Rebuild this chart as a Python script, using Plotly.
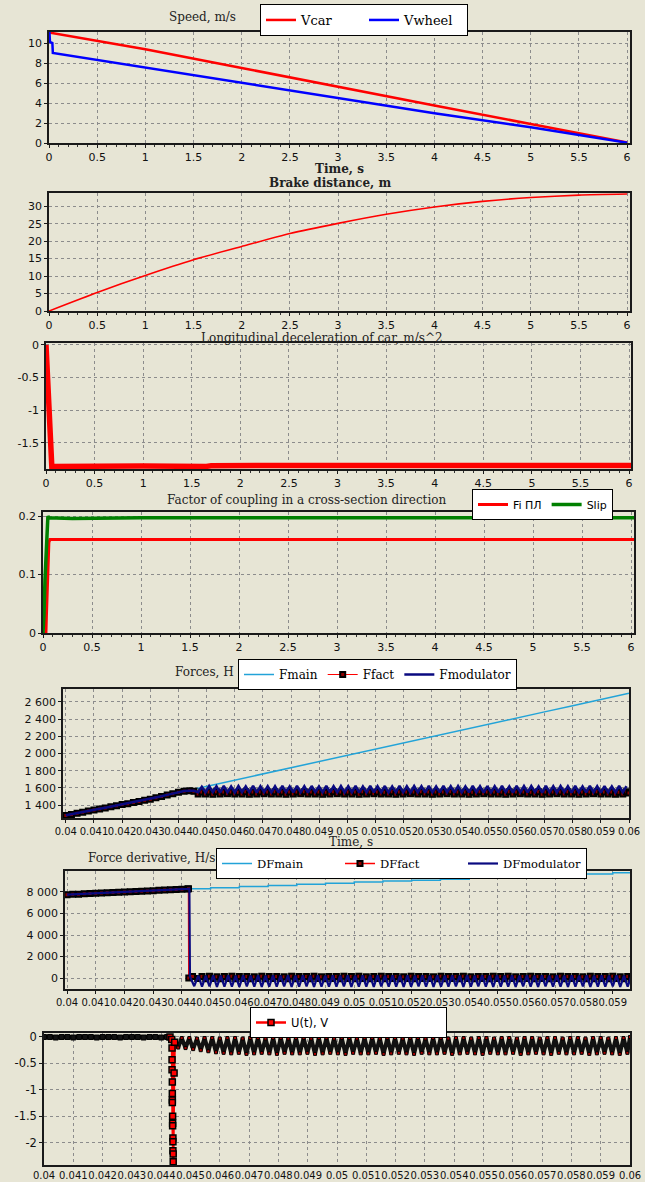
import plotly.graph_objects as go

W, H = 645, 1182
BG = '#E7E5D5'

# ---------------- data ----------------
# Panel 1: speed
vcar_t = [0, 1, 2, 3, 4, 5, 6]
vcar_v = [11.05, 9.37, 7.5, 5.6, 3.75, 1.9, 0.05]
vwheel_t = [0, 0.005, 0.01, 0.035, 0.04, 0.5, 1, 2, 3, 4, 5, 6]
vwheel_v = [11.0, 11.0, 10.1, 10.0, 9.0, 8.3, 7.47, 5.97, 4.47, 2.97, 1.57, 0.03]

# Panel 2: brake distance
brake_t = [0, 0.5, 1, 1.5, 2, 2.5, 3, 3.5, 4, 4.5, 5, 5.5, 6]
brake_s = [0, 5.3, 10.2, 14.7, 18.5, 22.2, 25.1, 27.7, 29.8, 31.4, 32.5, 33.2, 33.5]

# Panel 3: longitudinal deceleration
decel_t = [0, 0.01, 0.02, 0.03, 0.04, 0.05, 0.06, 0.08, 0.3, 0.6, 1.0, 1.65, 1.7, 2.5, 3.5, 4.5, 4.8, 5.2, 5.6, 6.02]
decel_a = [0, -0.33, -0.55, -0.95, -1.5, -1.78, -1.87, -1.86, -1.855, -1.86, -1.855, -1.86,
           -1.85, -1.845, -1.845, -1.845, -1.84, -1.845, -1.84, -1.845]

# Panel 4: factor of coupling
fi_t = [0, 0.03, 0.035, 0.045, 0.05, 0.06, 0.07, 6.03]
fi_v = [0, 0.0, 0.03, 0.08, 0.14, 0.155, 0.16, 0.16]
slip_t = [0, 0.01, 0.02, 0.03, 0.04, 0.05, 0.06, 0.3, 1.0, 2.0, 3.0, 4.0, 5.0, 6.03]
slip_v = [0, 0.03, 0.09, 0.13, 0.175, 0.2, 0.197, 0.196, 0.197, 0.197, 0.197, 0.197, 0.197, 0.197]

# time samples, units of 1e-5 s
rise_t = [4000, 4020, 4040, 4060, 4080, 4100, 4120, 4140, 4160, 4180, 4200,
          4220, 4240, 4260, 4280, 4300, 4320, 4340, 4360, 4380, 4400, 4420]
osc_t = [4470, 4483, 4496, 4509, 4522, 4535, 4548, 4561, 4574, 4587,
         4600, 4613, 4626, 4639, 4652, 4665, 4678, 4691, 4704, 4717,
         4730, 4743, 4756, 4769, 4782, 4795, 4808, 4821, 4834, 4847,
         4860, 4873, 4886, 4899, 4912, 4925, 4938, 4951, 4964, 4977,
         4990, 5003, 5016, 5029, 5042, 5055, 5068, 5081, 5094, 5107,
         5120, 5133, 5146, 5159, 5172, 5185, 5198, 5211, 5224, 5237,
         5250, 5263, 5276, 5289, 5302, 5315, 5328, 5341, 5354, 5367,
         5380, 5393, 5406, 5419, 5432, 5445, 5458, 5471, 5484, 5497,
         5510, 5523, 5536, 5549, 5562, 5575, 5588, 5601, 5614, 5627,
         5640, 5653, 5666, 5679, 5692, 5705, 5718, 5731, 5744, 5757,
         5770, 5783, 5796, 5809, 5822, 5835, 5848, 5861, 5874, 5887,
         5900, 5913, 5926, 5939, 5952, 5965, 5978, 5991]

# Panel 5: forces
fmain_t = [4000, 4100, 4200, 4300, 4430, 4500, 4600, 4700, 4800, 4900, 5000,
           5100, 5200, 5300, 5400, 5500, 5600, 5700, 5800, 5900, 6000]
fmain_v = [1292, 1352, 1412, 1474, 1568, 1618, 1690, 1762, 1835, 1906, 1978,
           2050, 2122, 2194, 2268, 2340, 2412, 2484, 2556, 2628, 2700]
ffact_rise = [1280, 1291, 1305, 1316, 1331, 1342, 1356, 1366, 1381, 1391, 1406,
              1417, 1431, 1442, 1457, 1467, 1485, 1499, 1517, 1531, 1549, 1561]
fmod_rise = [1283, 1294, 1306, 1318, 1332, 1344, 1357, 1369, 1382, 1394, 1407,
             1420, 1432, 1445, 1458, 1470, 1487, 1502, 1519, 1534, 1550, 1563]
ffact_lead_t = [4440, 4455]
ffact_lead = [1566, 1562]
fmod_lead_t = [4440, 4455]
fmod_lead = [1568, 1566]
ffact_osc = [1528, 1553, 1530, 1551, 1527, 1554, 1529, 1552, 1531, 1553, 1528, 1550, 1530, 1554, 1527, 1552, 1529, 1553, 1531, 1551,
             1528, 1554, 1530, 1552, 1527, 1553, 1529, 1551, 1531, 1554, 1528, 1552, 1530, 1553, 1527, 1550, 1529, 1554, 1531, 1552,
             1528, 1553, 1530, 1551, 1527, 1554, 1529, 1552, 1531, 1553, 1528, 1550, 1530, 1554, 1527, 1552, 1529, 1553, 1531, 1551,
             1528, 1554, 1530, 1552, 1527, 1553, 1529, 1551, 1531, 1554, 1528, 1552, 1530, 1553, 1527, 1550, 1529, 1554, 1531, 1552,
             1528, 1553, 1530, 1551, 1527, 1554, 1529, 1552, 1531, 1553, 1528, 1550, 1530, 1554, 1527, 1552, 1529, 1553, 1531, 1551,
             1528, 1554, 1530, 1552, 1527, 1553, 1529, 1551, 1531, 1554, 1528, 1552, 1530, 1553, 1527, 1550, 1529, 1554]
fmod_osc = [1549, 1612, 1547, 1621, 1550, 1619, 1546, 1624, 1549, 1618, 1547, 1622, 1551, 1617, 1548, 1625, 1546, 1620, 1550, 1621,
            1548, 1619, 1546, 1623, 1550, 1618, 1547, 1624, 1549, 1620, 1546, 1622, 1550, 1617, 1548, 1625, 1547, 1619, 1549, 1621,
            1547, 1620, 1550, 1623, 1546, 1618, 1549, 1624, 1547, 1620, 1550, 1622, 1546, 1617, 1548, 1625, 1549, 1619, 1547, 1622,
            1550, 1620, 1546, 1623, 1549, 1618, 1547, 1625, 1550, 1620, 1546, 1621, 1549, 1618, 1547, 1624, 1550, 1619, 1546, 1622,
            1549, 1620, 1547, 1623, 1550, 1618, 1546, 1624, 1549, 1621, 1547, 1622, 1550, 1617, 1546, 1625, 1549, 1620, 1547, 1621,
            1550, 1619, 1546, 1623, 1549, 1618, 1547, 1624, 1550, 1620, 1546, 1622, 1549, 1618, 1547, 1623, 1548, 1620]
ffact_end_t = [6000]
ffact_end = [1540]

# Panel 6: force derivative
dfmain_t = [4000, 4100, 4200, 4300, 4420, 4500, 4600, 4700, 4800, 4900, 5000,
            5100, 5200, 5300, 5400, 5500, 5600, 5700, 5800, 5900, 6000]
dfmain_v = [7740, 7900, 8060, 8200, 8300, 8390, 8500, 8610, 8710, 8810, 8920,
            9010, 9100, 9190, 9285, 9380, 9480, 9580, 9680, 9780, 9860]
dffact_rise = [7748, 7779, 7798, 7829, 7851, 7873, 7902, 7924, 7953, 7974, 8001,
               8027, 8048, 8079, 8098, 8124, 8152, 8173, 8203, 8225, 8252, 8278]
dfmod_rise = [7752, 7775, 7803, 7825, 7855, 7878, 7898, 7929, 7949, 7978, 8005,
              8023, 8053, 8074, 8103, 8128, 8148, 8178, 8199, 8229, 8248, 8282]
dffact_lead_t = [4423, 4424, 4437, 4455]
dffact_lead = [8300, 0, 150, -50]
dfmod_lead_t = [4426, 4428, 4443, 4457]
dfmod_lead = [8300, 150, -760, 220]
dffact_osc = [140, -60, 160, -40, 130, -70, 150, -50, 170, -60, 140, -40, 150, -70, 130, -50, 160, -60, 140, -50,
              150, -40, 130, -60, 160, -70, 140, -50, 150, -60, 170, -40, 130, -70, 150, -50, 140, -60, 160, -40,
              140, -60, 160, -40, 130, -70, 150, -50, 170, -60, 140, -40, 150, -70, 130, -50, 160, -60, 140, -50,
              150, -40, 130, -60, 160, -70, 140, -50, 150, -60, 170, -40, 130, -70, 150, -50, 140, -60, 160, -40,
              140, -60, 160, -40, 130, -70, 150, -50, 170, -60, 140, -40, 150, -70, 130, -50, 160, -60, 140, -50,
              150, -40, 130, -60, 160, -70, 140, -50, 150, -60, 170, -40, 130, -70, 150, -50, 140, -60]
dfmod_osc = [-800, 230, -780, 250, -820, 220, -790, 240, -810, 230, -830, 250, -770, 220, -800, 240, -820, 230, -790, 250,
             -810, 220, -780, 240, -830, 230, -800, 250, -770, 220, -820, 240, -790, 230, -810, 250, -800, 220, -780, 240,
             -820, 230, -790, 250, -800, 220, -830, 240, -770, 230, -810, 250, -790, 220, -820, 240, -800, 230, -780, 250,
             -810, 220, -830, 240, -790, 230, -800, 250, -770, 220, -820, 240, -810, 230, -780, 250, -800, 220, -830, 240,
             -790, 230, -810, 250, -820, 220, -770, 240, -800, 230, -830, 250, -780, 220, -810, 240, -790, 230, -820, 250,
             -800, 220, -780, 240, -830, 230, -790, 250, -810, 220, -770, 240, -820, 230, -800, 250, -790, 220]

# Panel 7: U(t)
u_rise = [0.0, 0.0, -0.01, 0.0, 0.0, -0.01, 0.0, 0.0, 0.0, -0.01, 0.0,
          0.0, 0.0, -0.01, 0.0, 0.0, 0.0, -0.01, 0.0, 0.0, -0.01, 0.0]
u_drop_t = [4430, 4436, 4437, 4437, 4437, 4438, 4438, 4438, 4438, 4439, 4439, 4439,
            4440, 4440, 4440, 4441, 4441, 4444, 4446]
u_drop = [0.0, -0.05, -0.21, -0.43, -0.62, -0.85, -1.07, -1.19, -1.24, -1.5, -1.63, -1.68,
          -1.91, -1.98, -2.15, -2.21, -2.36, -0.68, -0.1]
u_lead_t = [4446, 4458]
u_lead = [-0.1, -0.2]
u_osc = [-0.02, -0.21, -0.02, -0.23, -0.03, -0.25, -0.02, -0.27, -0.02, -0.29, -0.03, -0.30, -0.02, -0.31, -0.02, -0.30, -0.03, -0.32, -0.02, -0.31,
         -0.02, -0.30, -0.03, -0.31, -0.02, -0.32, -0.02, -0.30, -0.03, -0.31, -0.02, -0.31, -0.02, -0.30, -0.03, -0.32, -0.02, -0.31, -0.02, -0.30,
         -0.03, -0.31, -0.02, -0.32, -0.02, -0.30, -0.03, -0.31, -0.02, -0.31, -0.02, -0.30, -0.03, -0.32, -0.02, -0.31, -0.02, -0.30, -0.03, -0.31,
         -0.02, -0.32, -0.02, -0.30, -0.03, -0.31, -0.02, -0.31, -0.02, -0.30, -0.03, -0.32, -0.02, -0.31, -0.02, -0.30, -0.03, -0.31, -0.02, -0.32,
         -0.02, -0.30, -0.03, -0.31, -0.02, -0.31, -0.02, -0.30, -0.03, -0.32, -0.02, -0.31, -0.02, -0.30, -0.03, -0.31, -0.02, -0.32, -0.02, -0.30,
         -0.03, -0.31, -0.02, -0.31, -0.02, -0.30, -0.03, -0.32, -0.02, -0.31, -0.02, -0.30, -0.03, -0.31, -0.02, -0.32, -0.02, -0.30]
u_end_t = [6000]
u_end = [0.0]

# tick labels
ms_ticks = [40, 41, 42, 43, 44, 45, 46, 47, 48, 49, 50, 51, 52, 53, 54, 55, 56, 57, 58, 59, 60]
ms_text = ['0.04', '0.041', '0.042', '0.043', '0.044', '0.045', '0.046', '0.047', '0.048', '0.049', '0.05',
           '0.051', '0.052', '0.053', '0.054', '0.055', '0.056', '0.057', '0.058', '0.059', '0.06']
force_ticks = [1400, 1600, 1800, 2000, 2200, 2400, 2600]
force_text = ['1 400', '1 600', '1 800', '2 000', '2 200', '2 400', '2 600']
dforce_ticks = [0, 2000, 4000, 6000, 8000]
dforce_text = ['0', '2 000', '4 000', '6 000', '8 000']
decel_ticks = [0, -0.5, -1, -1.5]
decel_text = ['0', '-0.5', '-1', '-1.5']
u_ticks = [0, -0.5, -1, -1.5, -2]
u_text = ['0', '-0.5', '-1', '-1.5', '-2']


def sec(lst):
    return [v / 1e5 for v in lst]


# ---------------- figure ----------------
fig = go.Figure()


def add(tr, k):
    tr.update(xaxis='x' if k == 1 else 'x%d' % k, yaxis='y' if k == 1 else 'y%d' % k)
    fig.add_trace(tr)


add(go.Scatter(x=vcar_t, y=vcar_v, mode='lines', name='Vcar', legend='legend',
               line=dict(color='#ff0000', width=2.5)), 1)
add(go.Scatter(x=vwheel_t, y=vwheel_v, mode='lines', name='Vwheel', legend='legend',
               line=dict(color='#0000ff', width=2.5)), 1)

add(go.Scatter(x=brake_t, y=brake_s, mode='lines', name='Brake distance', showlegend=False,
               line=dict(color='#ff0000', width=1.6, shape='spline', smoothing=0.6)), 2)

add(go.Scatter(x=decel_t, y=decel_a, mode='lines', name='Deceleration', showlegend=False,
               line=dict(color='#ff0000', width=5.5)), 3)

add(go.Scatter(x=fi_t, y=fi_v, mode='lines', name='Fi ПЛ', legend='legend2',
               line=dict(color='#ff0000', width=3)), 4)
add(go.Scatter(x=slip_t, y=slip_v, mode='lines', name='Slip', legend='legend2',
               line=dict(color='#008000', width=3.5)), 4)

mk = dict(symbol='square', size=5, color='#8b0000', line=dict(color='black', width=2))

add(go.Scatter(x=sec(fmain_t), y=fmain_v, mode='lines', name='Fmain', legend='legend3',
               line=dict(color='#22a3d8', width=1.5)), 5)
add(go.Scatter(x=sec(rise_t + ffact_lead_t + osc_t + ffact_end_t),
               y=ffact_rise + ffact_lead + ffact_osc + ffact_end,
               mode='lines+markers', name='Ffact', legend='legend3',
               line=dict(color='#ff0000', width=1), marker=mk), 5)
add(go.Scatter(x=sec(rise_t + fmod_lead_t + osc_t), y=fmod_rise + fmod_lead + fmod_osc,
               mode='lines', name='Fmodulator', legend='legend3',
               line=dict(color='#0a0a80', width=2.5)), 5)

add(go.Scatter(x=sec(dfmain_t), y=dfmain_v, mode='lines', name='DFmain', legend='legend4',
               line=dict(color='#22a3d8', width=1.5, shape='hv')), 6)
add(go.Scatter(x=sec(rise_t + dffact_lead_t + osc_t), y=dffact_rise + dffact_lead + dffact_osc,
               mode='lines+markers', name='DFfact', legend='legend4',
               line=dict(color='#ff0000', width=1.5), marker=mk), 6)
add(go.Scatter(x=sec(rise_t + dfmod_lead_t + osc_t), y=dfmod_rise + dfmod_lead + dfmod_osc,
               mode='lines', name='DFmodulator', legend='legend4',
               line=dict(color='#0a0a80', width=2.2)), 6)

add(go.Scatter(x=sec(u_lead_t + osc_t + u_end_t), y=u_lead + u_osc + u_end,
               mode='lines+markers', name='U(t), V', legend='legend5', showlegend=False,
               line=dict(color='#111111', width=4),
               marker=dict(symbol='square', size=3, color='#b00000', line=dict(color='black', width=1))), 7)
add(go.Scatter(x=sec(rise_t), y=u_rise, mode='lines+markers', name='U(t), V', legend='legend5',
               showlegend=False, line=dict(color='#111111', width=4),
               marker=dict(symbol='square', size=5, color='#111111', line=dict(color='black', width=1))), 7)
add(go.Scatter(x=sec(u_drop_t), y=u_drop,
               mode='lines+markers', name='U(t), V', legend='legend5',
               line=dict(color='#ff0000', width=2.5),
               marker=dict(symbol='square', size=6, color='#ff0000', line=dict(color='black', width=1.5))), 7)

# ---------------- axes ----------------
panels = [(49, 630, 32, 143), (49, 630, 193, 311), (46, 631, 343, 469), (43, 634, 512, 633),
          (63, 629, 689, 818), (65, 630, 871, 989), (44, 630, 1033, 1165)]
xranges = [[0, 6.03], [0, 6.03], [0, 6.02], [0, 6.03], [0.0399, 0.06], [0.03993, 0.0596], [0.04, 0.06]]
yranges = [[0, 11.1], [0, 33.8], [-1.9, 0.03], [0, 0.207], [1250, 2750], [-1020, 9950], [-2.42, 0.075]]


def ax(**kw):
    d = dict(showline=True, mirror=True, linecolor='#1a1a1a', linewidth=1.5,
             showgrid=True, gridcolor='#8c8c8c', griddash='3px,3px', gridwidth=1,
             zeroline=False, ticks='outside', ticklen=3, tickcolor='#1a1a1a',
             tickfont=dict(family='DejaVu Sans', size=11, color='#111'), tickangle=0,
             automargin=False, fixedrange=True)
    d.update(kw)
    return d


lay = {}
for i, (x0, x1, yt, yb) in enumerate(panels):
    k = i + 1
    xs = 'xaxis' if k == 1 else 'xaxis%d' % k
    ys = 'yaxis' if k == 1 else 'yaxis%d' % k
    xkw = dict(domain=[x0 / W, x1 / W], anchor='y' if k == 1 else 'y%d' % k, range=xranges[i])
    ykw = dict(domain=[1 - yb / H, 1 - yt / H], anchor='x' if k == 1 else 'x%d' % k, range=yranges[i])
    if k <= 4:
        xkw.update(dtick=0.5, tick0=0, minor=dict(ticks='outside', ticklen=2, tickcolor='#333', dtick=0.1, showgrid=False))
    else:
        xkw.update(tickvals=[v / 1000 for v in ms_ticks], ticktext=ms_text,
                   tickfont=dict(family='DejaVu Sans', size=10, color='#111'))
    if k == 7:
        xkw.update(ticks='')
    if k == 1:
        ykw.update(dtick=2)
    elif k == 2:
        ykw.update(dtick=5)
    elif k == 3:
        ykw.update(tickvals=decel_ticks, ticktext=decel_text)
    elif k == 4:
        ykw.update(dtick=0.1)
    elif k == 5:
        ykw.update(tickvals=force_ticks, ticktext=force_text)
    elif k == 6:
        ykw.update(tickvals=dforce_ticks, ticktext=dforce_text)
    elif k == 7:
        ykw.update(tickvals=u_ticks, ticktext=u_text, tickfont=dict(family='DejaVu Sans', size=11.5, color='#111'))
    lay[xs] = ax(**xkw)
    lay[ys] = ax(**ykw)


def leg(x, y, size, family, ew=None):
    d = dict(x=x / W, y=1 - y / H, xanchor='left', yanchor='top', orientation='h',
             bgcolor='white', bordercolor='black', borderwidth=1, itemwidth=30,
             font=dict(family=family, size=size, color='black'), tracegroupgap=0)
    if ew:
        d.update(entrywidth=ew, entrywidthmode='pixels')
    return d


lay['legend'] = leg(260, 4, 13, 'DejaVu Serif', 58)
lay['legend2'] = leg(472, 489, 11, 'DejaVu Sans')
lay['legend3'] = leg(238, 659, 12, 'DejaVu Serif')
lay['legend4'] = leg(216, 848, 11.5, 'DejaVu Serif', 78)
lay['legend5'] = leg(250, 1007, 11.5, 'DejaVu Sans', 150)

titles = [
    ('Speed, m/s', 202, 17, False),
    ('Time, s', 339, 169, True),
    ('Brake distance, m', 330, 183, True),
    ('Longitudinal deceleration of car, m/s^2', 322, 338, False),
    ('Factor of coupling in a cross-section direction', 306, 500, False),
    ('Forces, H', 204, 672, False),
    ('Time, s', 351, 842, False),
    ('Force derivative, H/s', 151, 858, False),
]
annotations = []
for text, x, y, bold in titles:
    annotations.append(dict(text='<b>%s</b>' % text if bold else text, x=x / W, y=1 - y / H,
                            xref='paper', yref='paper', xanchor='center', yanchor='middle',
                            showarrow=False, font=dict(family='DejaVu Serif', size=12, color='#222')))

fig.update_layout(width=W, height=H, margin=dict(l=0, r=0, t=0, b=0),
                  paper_bgcolor=BG, plot_bgcolor=BG, annotations=annotations,
                  showlegend=True, **lay)

fig.write_html('out.html')
